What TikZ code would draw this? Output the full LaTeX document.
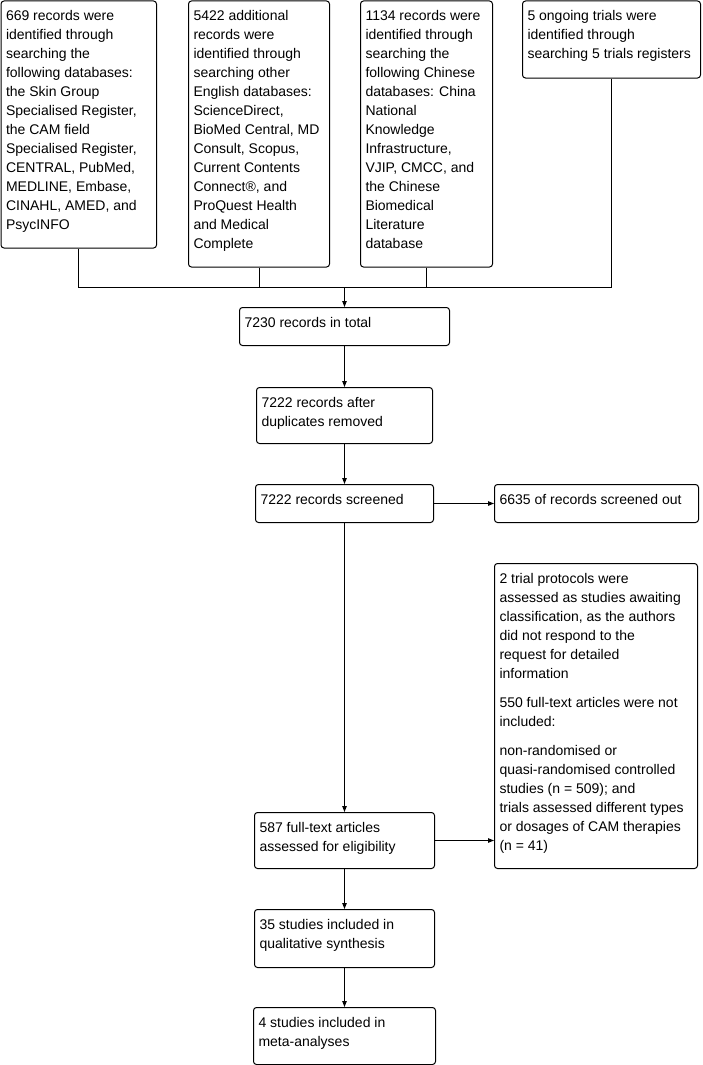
\documentclass[tikz,border=0pt]{standalone}
\usepackage{fontspec}
\setmainfont{Liberation Sans}
\usetikzlibrary{arrows.meta}
\newcommand\boxtext[3]{\begin{minipage}[t][\dimexpr#2pt-10pt\relax][t]{\dimexpr#1pt-10pt\relax}\raggedright\fontsize{14pt}{19pt}\selectfont\rule{0pt}{14.5pt}#3\end{minipage}}
\newcommand\bx[6]{\node[flowbox, minimum width=#4pt, minimum height=#5pt] (#1) at (#2pt,-#3pt) {\boxtext{#4}{#5}{#6}};}
\tikzset{
  flowbox/.style={draw, line width=1pt, rounded corners=3pt, anchor=north west, inner sep=0pt},
  link/.style={draw, line width=1pt},
  arr/.style={link, -{Triangle[length=6pt,width=4.5pt]}}
}
\begin{document}
\begin{tikzpicture}[x=1pt,y=1pt]
\useasboundingbox (0,0) rectangle (702,-1065);
\bx{b1}{0.5}{0.5}{155.5}{247}{669 records were\\identified through\\searching the\\following databases:\\the Skin Group\\Specialised Register,\\the CAM field\\Specialised Register,\\CENTRAL, PubMed,\\MEDLINE, Embase,\\CINAHL, AMED, and\\PsycINFO}
\bx{b2}{188}{0.5}{141}{266}{5422 additional\\records were\\identified through\\searching other\\English databases:\\ScienceDirect,\\BioMed Central, MD\\Consult, Scopus,\\Current Contents\\Connect®, and\\ProQuest Health\\and Medical\\Complete}
\bx{b3}{360}{0.5}{132}{266}{1134 records were\\identified through\\searching the\\following Chinese\\databases: China\\National\\Knowledge\\Infrastructure,\\VJIP, CMCC, and\\the Chinese\\Biomedical\\Literature\\database}
\bx{b4}{522}{0.5}{178}{77}{5 ongoing trials were\\identified through\\searching 5 trials registers}
\bx{total}{239}{307}{210}{38}{7230 records in total}
\bx{dup}{256}{387}{176}{56}{7222 records after\\duplicates removed}
\bx{scr}{255}{484}{178}{38}{7222 records screened}
\bx{out}{494}{484}{204}{38}{6635 of records screened out}
\bx{excl}{494}{563}{203}{305}{2 trial protocols were\\assessed as studies awaiting\\classification, as the authors\\did not respond to the\\request for detailed\\information\\[10pt]550 full-text articles were not\\included:\\[10pt]non-randomised or\\quasi-randomised controlled\\studies (n = 509); and\\trials assessed different types\\or dosages of CAM therapies\\(n = 41)}
\bx{full}{254}{812}{180}{56}{587 full-text articles\\assessed for eligibility}
\bx{qual}{254}{909}{180}{58}{35 studies included in\\qualitative synthesis}
\bx{meta}{253}{1007}{182}{57}{4 studies included in\\meta-analyses}
\coordinate (bus) at (total.north |- 0,-287);
\draw[link] (b1.south) |- (bus);
\draw[link] (b4.south) |- (bus);
\draw[link] (b2.south) -- (b2.south |- bus);
\draw[link] (b3.south) -- (b3.south |- bus);
\draw[arr] (bus) -- (total.north);
\draw[arr] (total.south) -- (total.south |- dup.north);
\draw[arr] (dup.south) -- (dup.south |- scr.north);
\draw[arr] (scr.east) -- (out.west);
\draw[arr] (scr.south) -- (scr.south |- full.north);
\draw[arr] (full.east) -- (full.east -| excl.west);
\draw[arr] (full.south) -- (full.south |- qual.north);
\draw[arr] (qual.south) -- (qual.south |- meta.north);
\end{tikzpicture}
\end{document}
